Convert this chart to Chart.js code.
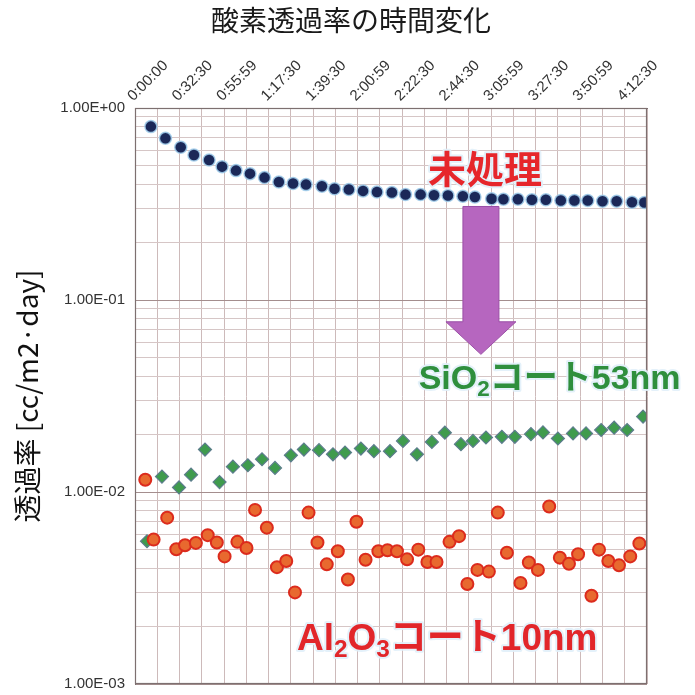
<!DOCTYPE html>
<html><head><meta charset="utf-8">
<script src="https://cdn.jsdelivr.net/npm/chart.js@4.4.1/dist/chart.umd.min.js"></script>
<style>html,body{margin:0;padding:0;background:#fff;overflow:hidden}</style>
</head><body>
<canvas id="c" width="695" height="695"></canvas>
<script>
// ---- text ----
const chartTitle = '酸素透過率の時間変化';
const yAxisTitle = '透過率 [cc/m2·day]';
const tickLabels = ['0:00:00','0:32:30','0:55:59','1:17:30','1:39:30','2:00:59','2:22:30','2:44:30','3:05:59','3:27:30','3:50:59','4:12:30'];
const yTickValues = [0.001, 0.01, 0.1, 1];
const yTickLabels = ['1.00E-03','1.00E-02','1.00E-01','1.00E+00'];
const seriesNames = ['未処理', 'SiO2コート53nm', 'Al2O3コート10nm'];

// ---- data (elapsed minutes, rate cc/m2·day) ----
const untreatedTime = [8.2,15.7,23.6,30.4,38.2,44.9,52.1,59.3,66.8,74.2,81.5,88.2,96.4,102.9,110.3,117.6,124.8,132.5,139.5,147.3,154.2,161.4,169.1,175.3,183.9,190.0,197.5,204.7,211.9,219.6,226.6,233.5,241.1,248.4,256.3,262.7];
const untreatedRate = [0.80,0.695,0.624,0.569,0.536,0.495,0.472,0.455,0.434,0.412,0.404,0.399,0.391,0.380,0.376,0.370,0.365,0.363,0.354,0.354,0.351,0.350,0.347,0.344,0.337,0.335,0.335,0.333,0.333,0.330,0.330,0.330,0.327,0.327,0.323,0.322];

const sio2Time = [6.2,13.9,22.7,28.9,36.1,43.6,50.5,58.2,65.5,72.2,80.4,87.1,94.9,102.1,108.3,116.5,123.2,131.5,138.2,145.4,153.1,159.8,168.1,174.3,181.0,189.2,195.9,204.2,210.4,218.1,225.9,232.6,240.4,247.1,253.8,262.0];
const sio2Rate = [0.00554,0.01203,0.01056,0.01231,0.01664,0.01126,0.01355,0.01378,0.01481,0.01335,0.01553,0.01664,0.01651,0.01572,0.01604,0.01684,0.01631,0.01631,0.01846,0.01572,0.01824,0.02036,0.01775,0.01846,0.01923,0.01939,0.01939,0.02002,0.02043,0.01900,0.02019,0.02019,0.02103,0.02162,0.02103,0.02470];

const al2o3Time = [5.3,9.6,16.6,21.3,25.8,31.4,37.5,42.2,46.2,52.8,57.5,61.9,68.0,73.2,78.0,82.5,89.5,94.1,98.9,104.6,109.8,114.2,118.9,125.5,130.2,135.1,140.3,146.1,150.8,155.5,162.2,167.1,171.4,176.6,182.5,187.1,191.8,198.8,203.1,207.8,213.6,219.1,223.8,228.5,235.4,239.3,244.1,249.6,255.4,260.1];
const al2o3Rate = [0.01159,0.00565,0.00735,0.00503,0.00528,0.00543,0.00596,0.00546,0.00462,0.00550,0.00511,0.00807,0.00652,0.00406,0.00437,0.00300,0.00781,0.00546,0.00420,0.00491,0.00350,0.00700,0.00444,0.00491,0.00497,0.00491,0.00446,0.00501,0.00432,0.00432,0.00550,0.00589,0.00332,0.00393,0.00385,0.00781,0.00483,0.00336,0.00429,0.00393,0.00840,0.00455,0.00423,0.00474,0.00288,0.00501,0.00437,0.00415,0.00462,0.00539];

// ---- axis layout ----
const gridStep = 11.48;     // minutes between vertical gridlines
const gridCount = 23;
const xMax = gridStep * gridCount;

const pts = (xs, ys) => xs.map((x, i) => ({x, y: ys[i]}));
const isDecade = v => yTickValues.some(d => Math.abs(v - d) / d < 1e-6);

function drawRichText(ctx, parts, x, y, size, color, align) {
  const fam = '"Liberation Sans","Noto Sans CJK JP",sans-serif';
  let w = 0;
  parts.forEach(p => { ctx.font = 'bold ' + (p[1] ? size*0.66 : size) + 'px ' + fam; w += ctx.measureText(p[0]).width; });
  let cx = align === 'center' ? x - w/2 : x;
  ctx.textBaseline = 'alphabetic';
  ctx.textAlign = 'left';
  parts.forEach(p => {
    const s = p[1] ? size*0.66 : size;
    ctx.font = 'bold ' + s + 'px ' + fam;
    const yy = p[1] ? y + size*0.2 : y;
    ctx.lineJoin = 'round';
    ctx.strokeStyle = 'rgba(225,240,250,0.9)';
    ctx.lineWidth = 4;
    ctx.strokeText(p[0], cx, yy);
    ctx.fillStyle = color;
    ctx.fillText(p[0], cx, yy);
    cx += ctx.measureText(p[0]).width;
  });
}

const decorPlugin = {
  id: 'decor',
  afterDatasetsDraw(chart) {
    const {ctx, chartArea: a, scales: {x, y}} = chart;
    ctx.save();
    // plot border
    ctx.strokeStyle = '#7d7070';
    ctx.lineWidth = 1.2;
    ctx.strokeRect(a.left + 0.5, a.top + 0.5, a.right - a.left - 1, a.bottom - a.top - 1);

    // arrow
    const ax = x.getPixelForValue(178.4);
    const aTop = y.getPixelForValue(0.307);
    const aBase = y.getPixelForValue(0.077);
    const aTip = y.getPixelForValue(0.0521);
    ctx.beginPath();
    ctx.moveTo(ax - 18, aTop);
    ctx.lineTo(ax + 18, aTop);
    ctx.lineTo(ax + 18, aBase);
    ctx.lineTo(ax + 35, aBase);
    ctx.lineTo(ax, aTip);
    ctx.lineTo(ax - 35, aBase);
    ctx.lineTo(ax - 18, aBase);
    ctx.closePath();
    ctx.fillStyle = '#b666bf';
    ctx.fill();
    ctx.strokeStyle = '#9a4ea6';
    ctx.lineWidth = 1;
    ctx.stroke();

    // labels
    drawRichText(ctx, [[seriesNames[0], false]], x.getPixelForValue(180.5), y.getPixelForValue(0.483) + 14, 38, '#e6262b', 'center');
    drawRichText(ctx, [['SiO', false], ['2', true], ['コート53nm', false]], x.getPixelForValue(146.3), y.getPixelForValue(0.0397) + 12, 34, '#2f8f3d', 'left');
    drawRichText(ctx, [['Al', false], ['2', true], ['O', false], ['3', true], ['コート10nm', false]], x.getPixelForValue(83.5), y.getPixelForValue(0.00176) + 13, 37, '#e2262a', 'left');

    // title
    ctx.font = '28px "Noto Sans CJK JP", sans-serif';
    ctx.fillStyle = '#1a1a1a';
    ctx.textAlign = 'center';
    ctx.textBaseline = 'middle';
    ctx.fillText(chartTitle, 351, 20);
    ctx.restore();
  }
};

new Chart(document.getElementById('c'), {
  type: 'scatter',
  data: {
    datasets: [
      {label: seriesNames[2], data: pts(al2o3Time, al2o3Rate), pointStyle: 'circle', pointRadius: 6, backgroundColor: '#e8692f', borderColor: '#dc2b1d', borderWidth: 2},
      {label: seriesNames[1], data: pts(sio2Time, sio2Rate), pointStyle: 'rectRot', pointRadius: 6.5, backgroundColor: '#3f9b4d', borderColor: '#5c7d8c', borderWidth: 1.2},
      {label: seriesNames[0], data: pts(untreatedTime, untreatedRate), pointStyle: 'circle', pointRadius: 6, backgroundColor: '#1b2858', borderColor: 'rgba(160,205,235,0.85)', borderWidth: 1.5}
    ]
  },
  options: {
    responsive: false,
    animation: false,
    devicePixelRatio: 1,
    layout: {padding: {top: 0, left: 0, right: 48, bottom: 11}},
    plugins: {legend: {display: false}, title: {display: false}, tooltip: {enabled: false}},
    scales: {
      x: {
        type: 'linear', position: 'top', min: 0, max: xMax,
        afterBuildTicks: ax => { ax.ticks = Array.from({length: gridCount + 1}, (_, k) => ({value: k * gridStep})); },
        afterFit: ax => { ax.height = 108; ax.paddingBottom = 0; ax.paddingTop = 0; },
        grid: {color: '#cdbaba', lineWidth: 1, drawTicks: false},
        border: {color: '#7d7070'},
        ticks: {
          autoSkip: false, minRotation: 45, maxRotation: 45, padding: 3, labelOffset: 8,
          font: {family: 'Liberation Sans', size: 15}, color: '#333',
          callback: (v, i) => (i % 2 === 0 ? tickLabels[i / 2] : '')
        }
      },
      y: {
        type: 'logarithmic', min: 0.001, max: 1,
        afterBuildTicks: ax => {
          const t = [];
          for (let e = -3; e < 0; e++) for (let m = 1; m <= 9; m++) t.push({value: m * Math.pow(10, e)});
          t.push({value: 1});
          ax.ticks = t;
        },
        afterFit: ax => { ax.width = 135; ax.paddingBottom = 0; ax.paddingTop = 0; },
        grid: {color: c => (isDecade(c.tick.value) ? '#a48e8e' : '#d6c6c6'), lineWidth: 1, drawTicks: false},
        border: {color: '#7d7070'},
        title: {display: true, text: yAxisTitle, font: {family: 'Noto Sans CJK JP', size: 28}, color: '#111', padding: {top: 11, bottom: 0}},
        ticks: {
          autoSkip: false, padding: 10,
          font: {family: 'Liberation Sans', size: 15}, color: '#333',
          callback: v => { const i = yTickValues.findIndex(d => Math.abs(v - d) / d < 1e-6); return i >= 0 ? yTickLabels[i] : ''; }
        }
      }
    }
  },
  plugins: [decorPlugin]
});
</script>
</body></html>
